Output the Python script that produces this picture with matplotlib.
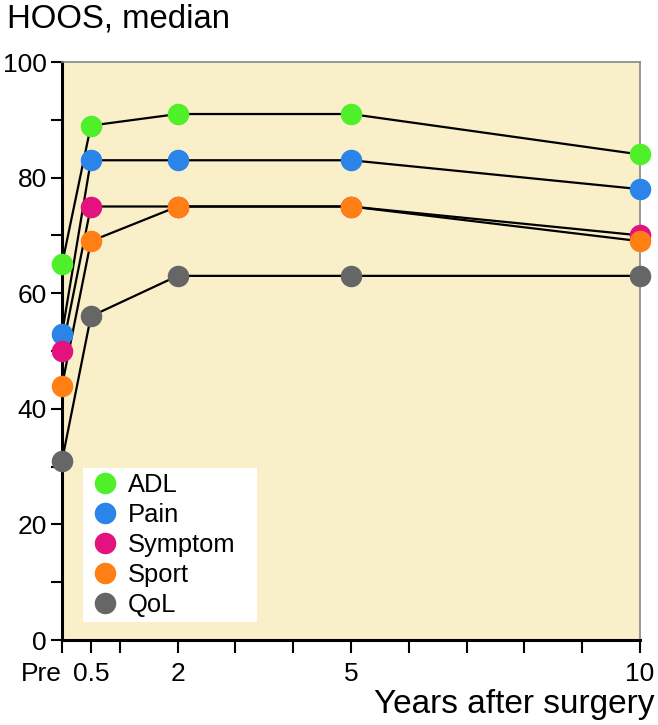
import matplotlib
matplotlib.use("Agg")
import matplotlib.pyplot as plt

plt.rcParams['font.family'] = ['Liberation Sans', 'DejaVu Sans']

years = [0, 0.5, 2, 5, 10]
tick_pos = [0, 0.5, 2, 5, 10]
tick_labels = ["Pre", "0.5", "2", "5", "10"]

series_names = ["ADL", "Pain", "Symptom", "Sport", "QoL"]
adl = [65, 89, 91, 91, 84]
pain = [53, 83, 83, 83, 78]
symptom = [50, 75, 75, 75, 70]
sport = [44, 69, 75, 75, 69]
qol = [31, 56, 63, 63, 63]
colors = ["#4ff02a", "#2b84ea", "#e3127f", "#ff7f15", "#666666"]

fig = plt.figure(figsize=(6.58, 7.25), dpi=100)
ax = fig.add_axes([62/658, 1-640/725, (640-62)/658, (640-62)/725])
ax.set_facecolor("#f9efc9")

for name, vals, c in zip(series_names, [adl, pain, symptom, sport, qol], colors):
    ax.plot(years, vals, color="black", lw=1.6, zorder=2, clip_on=False)
for name, vals, c in zip(series_names, [adl, pain, symptom, sport, qol], colors):
    ax.plot(years, vals, linestyle="none", marker="o", ms=15.5, mfc=c, mec="none",
            zorder=3, clip_on=False, label=name)

ax.set_xlim(0, 10)
ax.set_ylim(0, 100)
ax.set_xticks([i for i in range(0, 11)] + [0.5], minor=True)
ax.set_xticks(tick_pos)
ax.set_xticklabels(tick_labels, fontsize=19)
ax.get_xticklabels()[0].set_ha("right")
ax.set_yticks([0, 20, 40, 60, 80, 100])
ax.set_yticks(range(0, 101, 10), minor=True)
ax.tick_params(axis="y", labelsize=19, length=8, width=1.5, direction="out", pad=3)
ax.tick_params(axis="x", which="both", length=9, width=1.5, direction="out", pad=7)
ax.tick_params(axis="y", which="minor", length=8, width=1.5)

for s in ["left", "bottom"]:
    ax.spines[s].set_linewidth(2.2)
    ax.spines[s].set_color("black")
for s in ["top", "right"]:
    ax.spines[s].set_linewidth(1.2)
    ax.spines[s].set_color("#888888")

x0 = (83 - 62) / 578
y0 = (640 - 622) / 578
w = (257 - 83) / 578
h = (622 - 465) / 578
leg = ax.legend(loc="lower left", bbox_to_anchor=(x0, y0, w, h), mode="expand",
                fontsize=18.4, frameon=True, fancybox=False, framealpha=1,
                edgecolor="white", handletextpad=0.25, labelspacing=0.23,
                borderpad=0.2, handlelength=1.3, borderaxespad=0, markerscale=1.0)
leg.get_frame().set_linewidth(0)

fig.text(7/658, 1-28/725, "HOOS, median", fontsize=23.7, ha="left", va="baseline")
fig.text(0.995, 12/725, "Years after surgery", fontsize=24, ha="right", va="baseline")

fig.savefig("out.png", dpi=100)
